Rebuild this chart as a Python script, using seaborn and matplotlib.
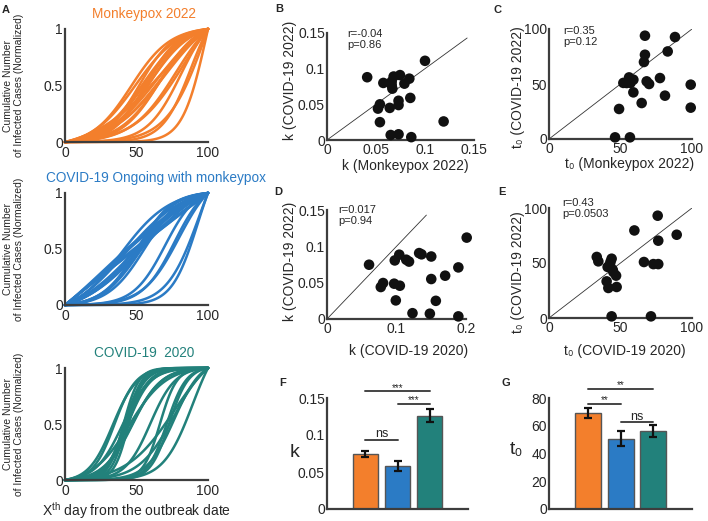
import numpy as np
import pandas as pd
import matplotlib
matplotlib.use("Agg")
import matplotlib.pyplot as plt
import seaborn as sns

# ---- values ----
# B: k (Monkeypox 2022) vs k (COVID-19 2022)
k_mpox_B = [0.041, 0.100, 0.0575, 0.068, 0.0745, 0.066, 0.0667, 0.079, 0.084, 0.054, 0.052,
            0.064, 0.073, 0.073, 0.085, 0.054, 0.119, 0.065, 0.073, 0.086, 0.066]
k_cov22_B = [0.088, 0.111, 0.080, 0.089, 0.091, 0.082, 0.072, 0.079, 0.086, 0.050, 0.044,
             0.045, 0.055, 0.049, 0.059, 0.025, 0.026, 0.007, 0.008, 0.004, 0.077]
# C: t0 (Monkeypox 2022) vs t0 (COVID-19 2022)
t0_mpox_C = [67.1, 88.1, 83.0, 67.1, 66.4, 54.3, 59.0, 57.0, 52.0, 68.3, 70.0,
             77.6, 99.1, 59.0, 81.1, 64.8, 99.1, 49.0, 46.2, 56.6, 56.0]
t0_cov22_C = [93.9, 92.7, 79.6, 76.6, 70.0, 50.9, 53.9, 51.0, 51.0, 52.4, 50.0,
              55.4, 49.4, 42.4, 39.4, 32.7, 28.5, 27.3, 1.5, 1.5, 56.0]
# D: k (COVID-19 2020) vs k (COVID-19 2022)
k_cov20_D = [0.0605, 0.0975, 0.104, 0.114, 0.118, 0.1326, 0.136, 0.150, 0.189, 0.170, 0.150,
             0.0807, 0.0774, 0.0966, 0.1048, 0.099, 0.1566, 0.123, 0.148, 0.189, 0.201]
k_cov22_D = [0.0747, 0.0806, 0.0885, 0.0816, 0.079, 0.0907, 0.089, 0.086, 0.071, 0.0596, 0.055,
             0.0495, 0.044, 0.0486, 0.0458, 0.0256, 0.025, 0.008, 0.0073, 0.0036, 0.112]
# E: t0 (COVID-19 2020) vs t0 (COVID-19 2022)
t0_cov20_E = [76.0, 89.3, 76.4, 59.7, 33.4, 34.5, 43.8, 42.6, 41.0, 66.4, 73.0,
              76.4, 45.0, 46.9, 40.3, 47.3, 41.5, 43.8, 71.3, 43.0, 44.5]
t0_cov22_E = [93.0, 75.7, 70.3, 79.6, 55.5, 51.5, 53.9, 48.5, 46.4, 50.9, 49.0,
              49.0, 41.8, 38.5, 33.3, 28.2, 27.3, 1.5, 1.5, 51.0, 44.0]

groups = ["Monkeypox 2022", "COVID-19 2022", "COVID-19 2020"]
k_mean = [0.0743, 0.0585, 0.126]
k_err = [0.004, 0.007, 0.009]
t0_mean = [69.2, 50.7, 56.2]
t0_err = [3.6, 5.6, 4.2]
# (label, group i, group j, height)
k_sig = [("***", 0, 2, 0.159), ("***", 1, 2, 0.142), ("ns", 0, 1, 0.0937)]
t0_sig = [("**", 0, 2, 86.5), ("**", 0, 1, 75.7), ("ns", 1, 2, 62.4)]

ORANGE = "#F37F2C"
BLUE = "#2B7BC5"
TEAL = "#22817B"
SPINE = "#3d3d3d"

sns.set_style("white")
plt.rcParams["font.family"] = ["Liberation Sans", "DejaVu Sans"]
plt.rcParams["mathtext.fontset"] = "custom"
plt.rcParams["mathtext.rm"] = "Liberation Sans"
plt.rcParams["mathtext.it"] = "Liberation Sans:italic"

W, H = 708, 521
fig = plt.figure(figsize=(W / 100, H / 100), dpi=100)


def px_axes(left, top, right, bottom):
    return fig.add_axes([left / W, (H - bottom) / H, (right - left) / W, (bottom - top) / H])


def style_axes(ax):
    sns.despine(ax=ax)
    for s in ("left", "bottom"):
        ax.spines[s].set_color(SPINE)
        ax.spines[s].set_linewidth(1.6)
    ax.tick_params(direction="in", length=3, width=1, color=SPINE, labelsize=10, pad=1.5)


def logistic_frame(ks, t0s):
    days = np.arange(0, 101)
    parts = []
    for i, (k, t0) in enumerate(zip(ks, t0s)):
        L = 1 / (1 + np.exp(-k * (days - t0)))
        parts.append(pd.DataFrame({"day": days, "value": (L - L[0]) / (L[-1] - L[0]), "unit": i}))
    return pd.concat(parts)


# ---- panel A: normalised cumulative curves ----
curve_sets = [
    ("Monkeypox 2022", ORANGE, k_mpox_B, t0_mpox_C, (29, 142), 0.552),
    ("COVID-19 Ongoing with monkeypox", BLUE, k_cov22_B, t0_cov22_C, (193, 305), 0.636),
    ("COVID-19  2020", TEAL, k_cov20_D, t0_cov20_E, (368, 480), 0.552),
]
for n, (title, color, ks, t0s, (top, bottom), tx) in enumerate(curve_sets):
    ax = px_axes(65, top, 208, bottom)
    sns.lineplot(data=logistic_frame(ks, t0s), x="day", y="value", units="unit",
                 estimator=None, color=color, lw=1.8, ax=ax)
    ax.set_xlim(0, 100)
    ax.set_ylim(0, 1)
    ax.set_xticks([0, 50, 100])
    ax.set_xticklabels(["0", "50", "100"])
    ax.set_yticks([0, 0.5, 1])
    ax.set_yticklabels(["0", "0.5", "1"])
    style_axes(ax)
    ax.tick_params(axis="x", pad=3)
    for line in ax.lines:
        line.set_clip_on(False)
    ax.set_ylabel("Cumulative Number\nof Infected Cases (Normalized)", fontsize=7.5, linespacing=1.1)
    ax.yaxis.set_label_coords(-0.29, 0.5)
    ax.text(tx, 1.13, title, transform=ax.transAxes, color=color, fontsize=9.8,
            ha="center", va="center")
    if n == 2:
        ax.set_xlabel("X$^{\\mathrm{th}}$ day from the outbreak date", fontsize=10)
        ax.xaxis.set_label_coords(0.5, -0.275)
        ax.xaxis.label.set_va("center")
    else:
        ax.set_xlabel("")


# ---- panels B-E: scatter ----
def scatter_panel(box, x, y, lim_x, lim_y, diag, xticks, yticks, xlabel, ylabel,
                  stats, stat_pos, xl_pos, yl_pos):
    ax = px_axes(*box)
    ax.plot([0, diag], [0, diag], color="#333333", lw=0.6, zorder=1)
    sc = sns.scatterplot(x=x, y=y, color="#111111", s=58, edgecolor="none", ax=ax, zorder=3)
    for coll in sc.collections:
        coll.set_clip_on(False)
    ax.set_xlim(*lim_x)
    ax.set_ylim(*lim_y)
    ax.set_xticks([float(t) for t in xticks])
    ax.set_xticklabels(xticks)
    ax.set_yticks([float(t) for t in yticks])
    ax.set_yticklabels(yticks)
    style_axes(ax)
    ax.tick_params(axis="x", pad=2)
    ax.set_xlabel(xlabel, fontsize=10)
    ax.xaxis.set_label_coords(*xl_pos)
    ax.xaxis.label.set_va("center")
    ax.set_ylabel(ylabel, fontsize=10)
    ax.yaxis.set_label_coords(*yl_pos)
    ax.yaxis.label.set_va("center")
    ax.text(stat_pos[0], stat_pos[1], stats, transform=ax.transAxes, fontsize=8,
            va="top", ha="left", linespacing=1.15)
    return ax


scatter_panel((327, 33, 474, 140), k_mpox_B, k_cov22_B, (0, 0.15), (0, 0.15), 0.143,
              ["0", "0.05", "0.1", "0.15"], ["0", "0.05", "0.1", "0.15"],
              "k (Monkeypox 2022)", "k (COVID-19 2022)", "r=-0.04\np=0.86",
              (0.14, 1.04), (0.53, -0.245), (-0.252, 0.56))
scatter_panel((549, 29, 692, 139), t0_mpox_C, t0_cov22_C, (0, 100), (0, 100), 100,
              ["0", "50", "100"], ["0", "50", "100"],
              "t₀ (Monkeypox 2022)", "t₀ (COVID-19 2022)", "r=0.35\np=0.12",
              (0.1, 1.03), (0.56, -0.225), (-0.215, 0.47))
scatter_panel((327, 210, 466, 319), k_cov20_D, k_cov22_D, (0, 0.2), (0, 0.15), 0.143,
              ["0", "0.1", "0.2"], ["0", "0.05", "0.1", "0.15"],
              "k (COVID-19 2020)", "k (COVID-19 2022)", "r=0.017\np=0.94",
              (0.08, 1.05), (0.59, -0.29), (-0.266, 0.53))
scatter_panel((549, 208, 692, 318), t0_cov20_E, t0_cov22_E, (0, 100), (0, 100), 100,
              ["0", "50", "100"], ["0", "50", "100"],
              "t₀ (COVID-19 2020)", "t₀ (COVID-19 2022)", "r=0.43\np=0.0503",
              (0.09, 1.09), (0.53, -0.3), (-0.215, 0.42))


# ---- panels F, G: bars ----
def bar_panel(box, means, errs, sig, yticks, ylabel, yl_pos, ymax):
    ax = px_axes(*box)
    sns.barplot(x=groups, y=means, hue=groups, palette=[ORANGE, BLUE, TEAL], legend=False,
                saturation=1, width=0.8, edgecolor="#555555", linewidth=1, errorbar=None, ax=ax)
    ax.errorbar([0, 1, 2], means, yerr=errs, fmt="none", ecolor="#111111",
                capsize=3, elinewidth=1.6, capthick=1.6, zorder=4)
    ax.set_xlim(-1.2, 3.2)
    ax.set_ylim(0, ymax)
    ax.set_xticks([0, 1, 2])
    ax.set_xticklabels(["", "", ""])
    ax.set_yticks([float(t) for t in yticks])
    ax.set_yticklabels(yticks)
    style_axes(ax)
    ax.set_xlabel("")
    ax.set_ylabel(ylabel, fontsize=14, rotation=0)
    ax.yaxis.set_label_coords(*yl_pos)
    ax.yaxis.label.set_va("center")
    ax.yaxis.label.set_ha("center")
    for label, i, j, h in sig:
        ax.plot([i, j], [h, h], color="#444444", lw=1.4, clip_on=False)
        if label == "ns":
            ax.annotate(label, xy=((i + j) / 2, h), xytext=(0, 2), textcoords="offset points",
                        ha="center", va="baseline", fontsize=9, annotation_clip=False)
        else:
            ax.annotate(label, xy=((i + j) / 2, h), xytext=(0, 0.5), textcoords="offset points",
                        ha="center", va="baseline", fontsize=7, annotation_clip=False)
    return ax


bar_panel((327, 398, 468, 509), k_mean, k_err, k_sig, ["0", "0.05", "0.1", "0.15"], "k",
          (-0.227, 0.51), 0.15)
bar_panel((549, 398, 692, 509), t0_mean, t0_err, t0_sig, ["0", "20", "40", "60", "80"], "t₀",
          (-0.226, 0.535), 80)

# panel letters
for letter, x, y in [("A", 6, 10), ("B", 279, 9), ("C", 498, 10), ("D", 278, 192),
                     ("E", 502, 192), ("F", 283, 383), ("G", 506, 383)]:
    fig.text(x / W, 1 - y / H, letter, fontsize=8, fontweight="bold", ha="center", va="center")

fig.savefig("out.png", dpi=100)
